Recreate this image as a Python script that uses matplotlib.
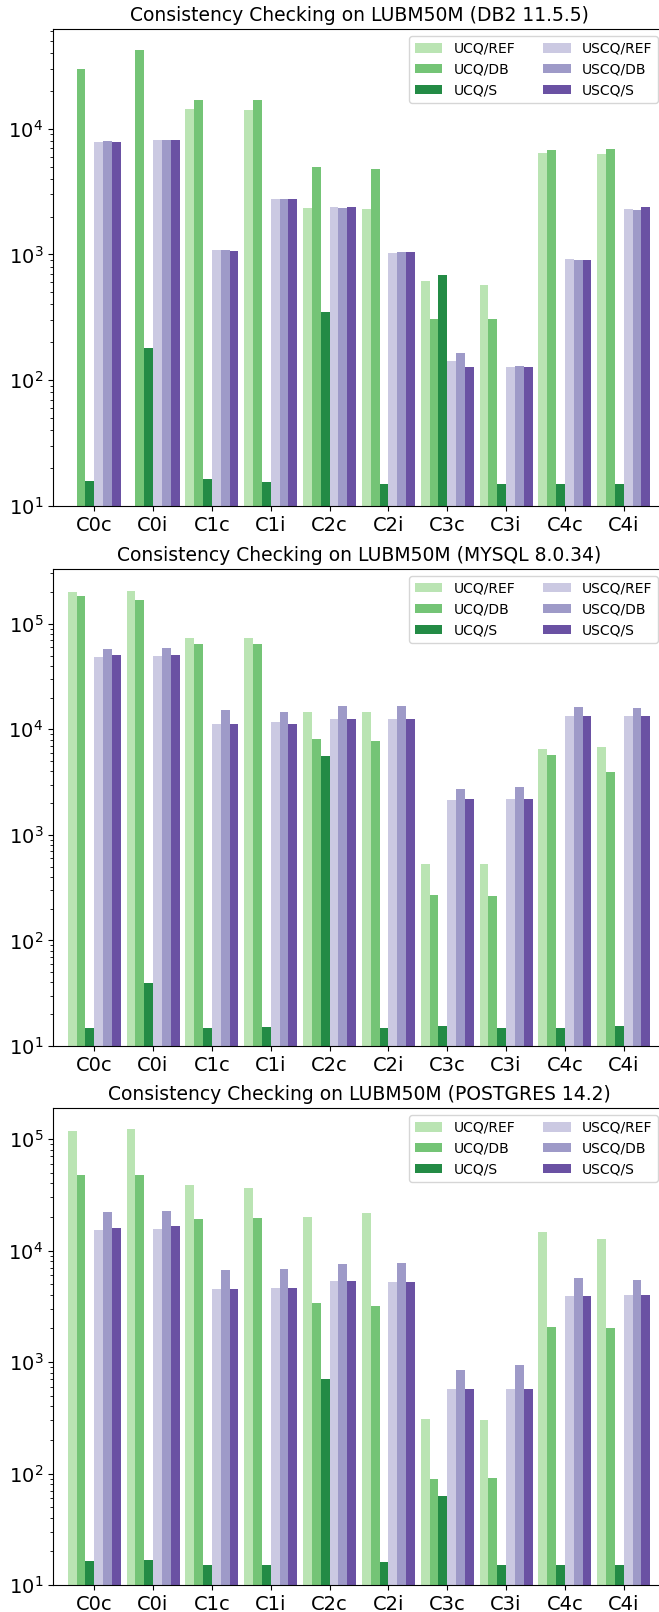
import numpy as np
import matplotlib
matplotlib.use("Agg")
import matplotlib.pyplot as plt

queries = ["C0c", "C0i", "C1c", "C1i", "C2c", "C2i", "C3c", "C3i", "C4c", "C4i"]
series = ["UCQ/REF", "UCQ/DB", "UCQ/S", "USCQ/REF", "USCQ/DB", "USCQ/S"]
colors = ["#bae4b3", "#74c476", "#238b45", "#cbc9e2", "#9e9ac8", "#6a51a3"]

# DB2 11.5.5 (nan = no result)
db2_ucq_ref = [np.nan, np.nan, 14300, 14000, 2360, 2300, 611, 574, 6380, 6240]
db2_ucq_db = [29600, 41900, 16900, 16900, 4970, 4800, 308, 308, 6720, 6930]
db2_ucq_s = [15.7, 182, 16.3, 15.6, 351, 15.0, 686, 15.0, 15.0, 15.0]
db2_uscq_ref = [7900, 8100, 1090, 2760, 2370, 1030, 142, 128, 927, 2310]
db2_uscq_db = [7980, 8100, 1080, 2760, 2320, 1040, 164, 130, 903, 2250]
db2_uscq_s = [7770, 8200, 1070, 2760, 2390, 1040, 128, 128, 903, 2390]

# MYSQL 8.0.34
mysql_ucq_ref = [201000, 206000, 73100, 73000, 14500, 14500, 524, 535, 6530, 6730]
mysql_ucq_db = [183000, 169000, 63700, 64000, 8070, 7730, 268, 264, 5650, 3900]
mysql_ucq_s = [14.9, 39.5, 14.9, 15.3, 5570, 14.9, 15.6, 14.9, 14.9, 15.6]
mysql_uscq_ref = [48000, 49000, 11300, 11600, 12400, 12400, 2160, 2170, 13400, 13400]
mysql_uscq_db = [58000, 58300, 15100, 14500, 16800, 16500, 2730, 2850, 16300, 16000]
mysql_uscq_s = [50500, 50500, 11300, 11300, 12400, 12400, 2170, 2170, 13400, 13400]

# POSTGRES 14.2
pg_ucq_ref = [118000, 122000, 38400, 36100, 20100, 21500, 306, 302, 14600, 12800]
pg_ucq_db = [47400, 47400, 19200, 19500, 3370, 3210, 89, 91.6, 2080, 2000]
pg_ucq_s = [16.4, 16.8, 15.0, 15.2, 706, 16.2, 62.4, 15.0, 15.0, 15.2]
pg_uscq_ref = [15300, 15700, 4550, 4660, 5330, 5250, 568, 568, 3910, 4000]
pg_uscq_db = [22100, 22500, 6680, 6780, 7650, 7710, 853, 935, 5660, 5500]
pg_uscq_s = [15900, 16500, 4500, 4660, 5330, 5200, 568, 568, 3910, 4000]

panels = [
    ("Consistency Checking on LUBM50M (DB2 11.5.5)",
     [db2_ucq_ref, db2_ucq_db, db2_ucq_s, db2_uscq_ref, db2_uscq_db, db2_uscq_s], 6.2e4),
    ("Consistency Checking on LUBM50M (MYSQL 8.0.34)",
     [mysql_ucq_ref, mysql_ucq_db, mysql_ucq_s, mysql_uscq_ref, mysql_uscq_db, mysql_uscq_s], 3.3e5),
    ("Consistency Checking on LUBM50M (POSTGRES 14.2)",
     [pg_ucq_ref, pg_ucq_db, pg_ucq_s, pg_uscq_ref, pg_uscq_db, pg_uscq_s], 1.9e5),
]

fig = plt.figure(figsize=(6.59, 16.12), dpi=100)
W, H = 659.0, 1612.0
left, right = 53, 665
tops = [29, 569, 1108]
height = 477

x = np.arange(len(queries))
width = 0.15

for (title, data, ymax), top in zip(panels, tops):
    ax = fig.add_axes([left / W, 1 - (top + height) / H, (right - left) / W, height / H])
    for i, (name, vals) in enumerate(zip(series, data)):
        ax.bar(x + (i - 2.5) * width, vals, width, color=colors[i], label=name)
    ax.set_yscale("log")
    ax.set_ylim(10, ymax)
    ax.set_xlim(-0.7, 9.7)
    ax.set_xticks(x)
    ax.set_xticklabels(queries)
    ax.tick_params(axis="both", which="major", labelsize=14)
    ax.set_title(title, fontsize=13.5)
    ax.legend(ncol=2, fontsize=10, loc="upper right")

fig.savefig("out.png", dpi=100)
